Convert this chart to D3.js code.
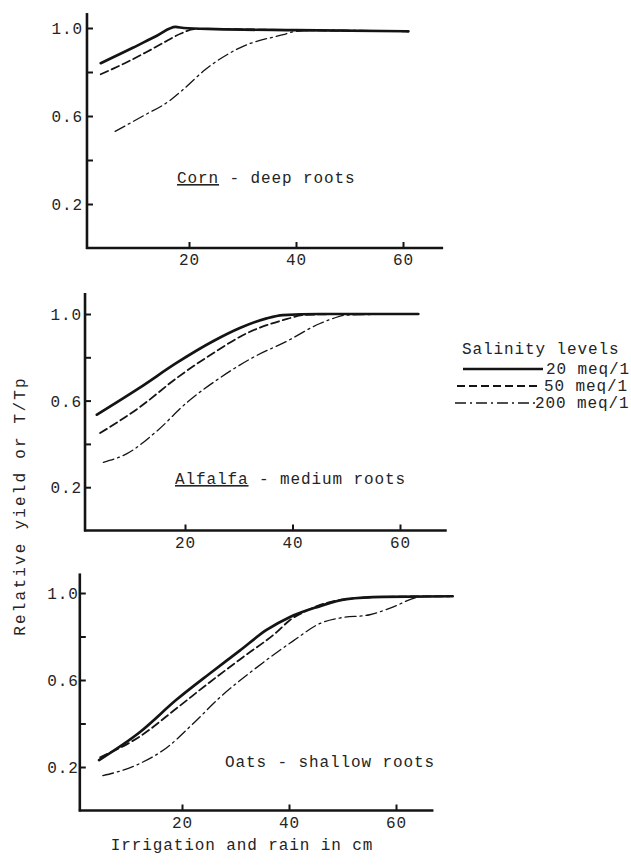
<!DOCTYPE html>
<html>
<head>
<meta charset="utf-8">
<script src="https://cdn.jsdelivr.net/npm/d3@7"></script>
<style>
  body { margin: 0; background: #fff; }
  svg text { font-family: "Liberation Mono", "DejaVu Sans Mono", monospace; font-size: 16px; fill: #242424; letter-spacing: 0.9px; }
</style>
</head>
<body>
<svg id="chart" width="631" height="868"></svg>
<script>
// Series values: [irrigation + rain (cm), relative yield]
let cornSolid = [[3.5, 0.84], [9.5, 0.91], [14, 0.965], [17.5, 1.005], [19, 1.0], [25, 0.995], [40, 0.99], [61, 0.985]];
let cornDashed = [[3.5, 0.79], [8, 0.84], [12, 0.89], [15, 0.93], [18.5, 0.975], [21, 0.995], [25, 0.995], [40, 0.99], [61, 0.985]];
let cornDashDot = [[6.2, 0.53], [11.4, 0.6], [16.4, 0.67], [18.9, 0.72], [23, 0.81], [29.5, 0.91], [37.6, 0.97], [40, 0.985], [45, 0.99], [61, 0.985]];

let alfalfaSolid = [[3.6, 0.535], [11.6, 0.66], [18.5, 0.775], [25.3, 0.875], [30.2, 0.935], [35.2, 0.98], [38.2, 0.995], [45, 1.0], [63.4, 1.0]];
let alfalfaDashed = [[4.2, 0.45], [11.6, 0.57], [18.5, 0.705], [25.3, 0.82], [31.4, 0.91], [39, 0.977], [42, 0.995], [50, 1.0], [63.4, 1.0]];
let alfalfaDashDot = [[4.8, 0.315], [9.2, 0.355], [14.8, 0.46], [20.3, 0.59], [26.5, 0.705], [32.7, 0.8], [39, 0.875], [45, 0.955], [47.6, 0.98], [50, 0.995], [63.4, 1.0]];

let oatsSolid = [[4.5, 0.232], [12.1, 0.36], [19, 0.51], [25.2, 0.63], [30.8, 0.735], [35.8, 0.83], [40.2, 0.89], [45.2, 0.935], [50.8, 0.972], [57.6, 0.982], [70.6, 0.985]];
let oatsDashed = [[4.7, 0.245], [12.1, 0.34], [19, 0.47], [25.2, 0.59], [31.4, 0.705], [37.7, 0.82], [40.2, 0.876], [43, 0.915], [50, 0.97], [57.6, 0.982], [70, 0.985]];
let oatsDashDot = [[5.2, 0.16], [11.6, 0.21], [17.2, 0.29], [22.1, 0.4], [27.1, 0.52], [33.3, 0.645], [40.8, 0.78], [45.8, 0.86], [49.5, 0.885], [55.1, 0.9], [59.4, 0.935], [63.9, 0.98], [66, 0.985]];

// Tick labels
let xTicks = [20, 40, 60];
let yTicks = [0.2, 0.4, 0.6, 0.8, 1.0];
let yTickLabels = ["0.2", "", "0.6", "", "1.0"];

// Legend
let salinityLevels = ["20 meq/1", "50 meq/1", "200 meq/1"];
let lineStyles = ["solid", "dashed", "dashdot"];

// Panel titles
let cropNames = ["Corn", "Alfalfa", "Oats"];
let rootTexts = [" - deep roots", " - medium roots", " - shallow roots"];
let underlined = [true, true, false];

let series = [
  [cornSolid, cornDashed, cornDashDot],
  [alfalfaSolid, alfalfaDashed, alfalfaDashDot],
  [oatsSolid, oatsDashed, oatsDashDot],
];

// layout of each panel (pixels): where x=0 / x=60 and y=0 / y=1 land, how far axes run
let panels = [
  { x0: 82, x60: 403, y0: 248, y1: 28, xMin: 0.93, xMax: 67.5, yTop: 1.068, labelX: 177, labelY: 183, pad: 4 },
  { x0: 77.5, x60: 400, y0: 530.5, y1: 314, xMin: 1.4, xMax: 68.7, yTop: 1.097, labelX: 175, labelY: 484, pad: 3 },
  { x0: 75, x60: 396, y0: 810.5, y1: 593, xMin: 0.9, xMax: 67, yTop: 1.09, labelX: 225, labelY: 767, pad: 1 },
];

let strokeStyle = {
  solid: { width: 2.7, dash: null },
  dashed: { width: 1.8, dash: "8,4" },
  dashdot: { width: 1.3, dash: "11,4,2,4" },
};

let svg = d3.select("#chart");
let ink = "#141414";

panels.forEach(function (p, i) {
  let x = d3.scaleLinear().domain([0, 60]).range([p.x0, p.x60]);
  let y = d3.scaleLinear().domain([0, 1]).range([p.y0, p.y1]);
  let g = svg.append("g");

  // y axis: ticks pointing inward, labels on 0.2 / 0.6 / 1.0
  let yAxis = d3.axisLeft(y)
    .tickValues(yTicks)
    .tickFormat(function (d, k) { return yTickLabels[k]; })
    .tickSizeInner(-6)
    .tickSizeOuter(0)
    .tickPadding(p.pad);
  let ya = g.append("g").attr("transform", "translate(" + x(p.xMin) + ",0)").call(yAxis);
  ya.select(".domain").remove();
  ya.selectAll("line").attr("stroke", ink).attr("stroke-width", 2);
  ya.selectAll("text").attr("font-family", null).attr("font-size", null).attr("dy", "0.36em");

  // x axis: ticks pointing up
  let xAxis = d3.axisBottom(x)
    .tickValues(xTicks)
    .tickSizeInner(-6)
    .tickSizeOuter(0)
    .tickPadding(6);
  let xa = g.append("g").attr("transform", "translate(0," + y(0) + ")").call(xAxis);
  xa.select(".domain").remove();
  xa.selectAll("line").attr("stroke", ink).attr("stroke-width", 2);
  xa.selectAll("text").attr("font-family", null).attr("font-size", null);

  // axis lines
  g.append("line")
    .attr("x1", x(p.xMin)).attr("x2", x(p.xMin))
    .attr("y1", y(0) + 1).attr("y2", y(p.yTop))
    .attr("stroke", ink).attr("stroke-width", 2.6);
  g.append("line")
    .attr("x1", x(p.xMin) - 1).attr("x2", x(p.xMax))
    .attr("y1", y(0)).attr("y2", y(0))
    .attr("stroke", ink).attr("stroke-width", 2.6);

  // curves
  let line = d3.line()
    .x(function (d) { return x(d[0]); })
    .y(function (d) { return y(d[1]); })
    .curve(d3.curveMonotoneX);

  // draw dash-dot first, solid last so it sits on top
  [2, 1, 0].forEach(function (k) {
    let st = strokeStyle[lineStyles[k]];
    g.append("path")
      .datum(series[i][k])
      .attr("d", line)
      .attr("fill", "none")
      .attr("stroke", ink)
      .attr("stroke-width", st.width)
      .attr("stroke-dasharray", st.dash)
      .attr("stroke-linecap", "round")
      .attr("stroke-linejoin", "round");
  });

  // panel title
  let t = g.append("text").attr("x", p.labelX).attr("y", p.labelY);
  t.append("tspan").text(cropNames[i])
    .style("text-decoration", underlined[i] ? "underline" : "none");
  t.append("tspan").text(rootTexts[i]);
});

// axis titles
svg.append("text")
  .attr("x", 242).attr("y", 850)
  .attr("text-anchor", "middle")
  .text("Irrigation and rain in cm");

svg.append("text")
  .attr("transform", "translate(25,506) rotate(-90)")
  .attr("text-anchor", "middle")
  .style("letter-spacing", "2.2px")
  .text("Relative yield or T/Tp");

// legend
let legend = svg.append("g");
legend.append("text").attr("x", 462).attr("y", 354).text("Salinity levels");
let legendRows = [
  { x1: 463, x2: 543, y: 369, tx: 546 },
  { x1: 457, x2: 539, y: 386, tx: 544 },
  { x1: 455, x2: 535, y: 403, tx: 535 },
];
salinityLevels.forEach(function (lab, k) {
  let r = legendRows[k];
  let st = strokeStyle[lineStyles[k]];
  legend.append("line")
    .attr("x1", r.x1).attr("x2", r.x2).attr("y1", r.y).attr("y2", r.y)
    .attr("stroke", ink)
    .attr("stroke-width", st.width)
    .attr("stroke-dasharray", st.dash);
  legend.append("text").attr("x", r.tx).attr("y", r.y + 5).text(lab);
});
</script>
</body>
</html>
